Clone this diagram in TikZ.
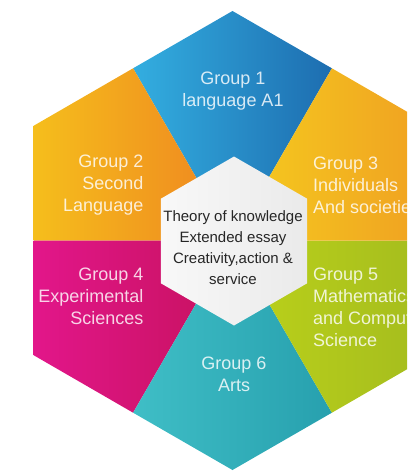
\documentclass[tikz,border=0pt]{standalone}
\usepackage{fontspec}
\setmainfont{Liberation Sans}
\definecolor{blueL}{HTML}{33AEE0}
\definecolor{blueR}{HTML}{1D6DB0}
\definecolor{orgL}{HTML}{F5BE1C}
\definecolor{orgR}{HTML}{EF8420}
\definecolor{yelL}{HTML}{F5CC1E}
\definecolor{yelR}{HTML}{F0A022}
\definecolor{pinkL}{HTML}{E2168A}
\definecolor{pinkR}{HTML}{C6125E}
\definecolor{grnL}{HTML}{BCD21A}
\definecolor{grnR}{HTML}{A4BC1E}
\definecolor{tealL}{HTML}{3FBEC6}
\definecolor{tealR}{HTML}{27A0AE}
\definecolor{hexL}{HTML}{F8F8F8}
\definecolor{hexR}{HTML}{EAEAEA}
\tikzset{
  grouptext/.style={text=white, text opacity=0.82, font=\fontsize{18}{22}\selectfont, inner sep=0pt},
  coretext/.style={text=black!85, font=\fontsize{15}{21}\selectfont, inner sep=0pt, align=center}
}
\begin{document}
\begin{tikzpicture}[x=1pt,y=-1pt]
\useasboundingbox (0,0) rectangle (407,471);
\clip (0,0) rectangle (407,471);
% outer hexagon geometry
\coordinate (O) at (232.5,240.5);
\coordinate (v90) at (232.5,11);
\coordinate (v150) at (33.7,125.75);
\coordinate (v210) at (33.7,355.25);
\coordinate (v270) at (232.5,470);
\coordinate (v330) at (431.3,355.25);
\coordinate (v30) at (431.3,125.75);
\coordinate (m0) at (431.3,240.5);
\coordinate (m60) at (331.9,68.3);
\coordinate (m120) at (133.1,68.3);
\coordinate (m180) at (33.7,240.5);
\coordinate (m240) at (133.1,412.7);
\coordinate (m300) at (331.9,412.7);
% sectors
\shade[left color=blueL, right color=blueR] (O) -- (m60) -- (v90) -- (m120) -- cycle;
\shade[left color=orgL, right color=orgR] (O) -- (m120) -- (v150) -- (m180) -- cycle;
\shade[left color=pinkL, right color=pinkR] (O) -- (m180) -- (v210) -- (m240) -- cycle;
\shade[left color=tealL, right color=tealR] (O) -- (m240) -- (v270) -- (m300) -- cycle;
\shade[left color=grnL, right color=grnR] (O) -- (m300) -- (v330) -- (m0) -- cycle;
\shade[left color=yelL, right color=yelR] (O) -- (m0) -- (v30) -- (m60) -- cycle;
% inner hexagon
\shade[left color=hexL, right color=hexR]
  (234,156.5) -- (307.2,198.75) -- (307.2,283.25) -- (234,325.5) -- (160.8,283.25) -- (160.8,198.75) -- cycle;
% texts
\node[grouptext, align=center] (g1) at (233,91) {Group 1\\language A1};
\node[grouptext, align=right, anchor=east] (g2) at (143.5,185) {Group 2\\Second\\Language};
\node[grouptext, align=left, anchor=west] (g3) at (313,185) {Group 3\\Individuals\\And societies};
\node[grouptext, align=right, anchor=east] (g4) at (143.5,296) {Group 4\\Experimental\\Sciences};
\node[grouptext, align=left, anchor=west] (g5) at (313,307) {Group 5\\Mathematics\\and Computer\\Science};
\node[grouptext, align=center] (g6) at (234,374) {Group 6\\Arts};
\node[coretext] (core) at (233,247.5) {Theory of knowledge\\Extended essay\\Creativity,action \&\\service};
\end{tikzpicture}
\end{document}
